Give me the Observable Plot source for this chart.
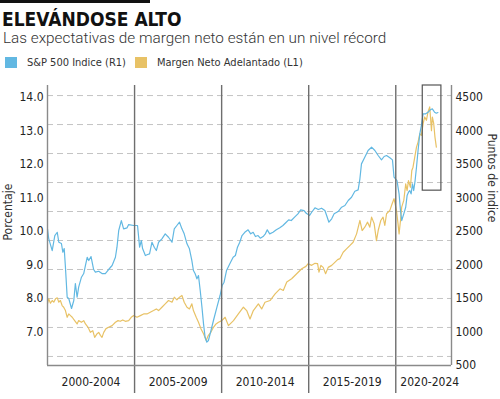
<!DOCTYPE html>
<html>
<head>
<meta charset="utf-8">
<script src="https://cdn.jsdelivr.net/npm/d3@7"></script>
<script src="https://cdn.jsdelivr.net/npm/@observablehq/plot@0.6"></script>
<style>
  html, body { margin: 0; padding: 0; background: #fff; }
  body { width: 500px; height: 399px; overflow: hidden; position: relative;
         font-family: "DejaVu Sans Condensed", "Liberation Sans Narrow", sans-serif; color: #222; }
  #bar { position: absolute; left: 0; top: 0; width: 150px; height: 3px; background: #111; }
  #title { position: absolute; left: 2px; top: 8px; font-weight: bold; font-size: 19px; line-height: 22px; color: #111; white-space: nowrap; }
  #subtitle { position: absolute; left: 3px; top: 29px; font-family: Roboto, "Open Sans", sans-serif; font-weight: 300; font-size: 15.3px; line-height: 18px; color: #333; white-space: nowrap; }
  #legend { position: absolute; left: 5px; top: 55px; font-size: 11px; line-height: 15px; color: #333; white-space: nowrap; display: flex; align-items: center; }
  #legend .sw { display: inline-block; width: 12px; height: 11px; margin-right: 10px; }
  #legend .item { display: flex; align-items: center; margin-right: 9px; }
  #chart { position: absolute; left: 0; top: 75px; }
</style>
</head>
<body>
<div id="bar"></div>
<div id="title"></div>
<div id="subtitle"></div>
<div id="legend"></div>
<div id="chart"></div>
<script>
// ---- Data ----
const titleText = "ELEVÁNDOSE ALTO";
const subtitleText = "Las expectativas de margen neto están en un nivel récord";
const seriesNames = ["S&P 500 Indice (R1)", "Margen Neto Adelantado (L1)"];
const seriesColors = ["#62b8e2", "#e8c266"];

// S&P 500 index (right axis, index points): [decimal year, value]
const sp500 = [
  [2000.00,2540],[2000.07,2395],[2000.27,2216],[2000.42,2440],[2000.56,2489],[2000.65,2340],[2000.80,2321],[2000.88,2191],
  [2000.96,2246],[2001.03,1967],[2001.13,1519],[2001.22,1500],[2001.38,1351],[2001.51,1470],[2001.60,1724],[2001.70,1519],
  [2001.79,1669],[2001.95,1818],[2002.08,1873],[2002.18,1993],[2002.28,2116],[2002.37,2067],[2002.50,2127],[2002.65,1933],
  [2002.75,1893],[2002.94,1907],[2003.13,1873],[2003.32,1873],[2003.51,1933],[2003.71,1993],[2003.90,2116],[2003.99,2266],
  [2004.09,2515],[2004.24,2664],[2004.37,2540],[2004.57,2555],[2004.66,2604],[2004.95,2590],[2005.17,2590],[2005.29,2266],
  [2005.39,2366],[2005.46,2246],[2005.62,2142],[2005.75,2157],[2005.86,2167],[2006.00,2340],[2006.13,2266],[2006.25,2216],
  [2006.38,2340],[2006.57,2391],[2006.76,2466],[2006.95,2415],[2007.15,2340],[2007.28,2540],[2007.43,2590],[2007.58,2639],
  [2007.72,2540],[2007.85,2466],[2008.01,2316],[2008.15,2242],[2008.29,2067],[2008.38,1918],[2008.48,1869],[2008.58,1794],
  [2008.67,1843],[2008.77,1619],[2008.87,1370],[2008.96,1122],[2009.05,922],[2009.15,848],[2009.24,873],[2009.34,973],
  [2009.53,1172],[2009.73,1370],[2009.91,1545],[2010.03,1694],[2010.14,1743],[2010.28,1918],[2010.47,2018],[2010.66,2116],
  [2010.79,2142],[2010.91,2266],[2011.04,2340],[2011.17,2440],[2011.33,2489],[2011.52,2525],[2011.67,2465],[2011.81,2489],
  [2011.94,2425],[2012.09,2440],[2012.22,2400],[2012.38,2425],[2012.51,2465],[2012.62,2525],[2012.76,2465],[2012.95,2489],
  [2013.14,2525],[2013.34,2555],[2013.52,2590],[2013.71,2639],[2013.85,2674],[2014.00,2664],[2014.19,2714],[2014.38,2764],
  [2014.54,2824],[2014.73,2813],[2014.86,2773],[2015.05,2739],[2015.17,2788],[2015.36,2854],[2015.55,2828],[2015.74,2848],
  [2015.93,2813],[2016.03,2739],[2016.16,2639],[2016.32,2690],[2016.46,2764],[2016.69,2798],[2016.89,2863],[2017.08,2888],
  [2017.27,2963],[2017.46,3012],[2017.65,3101],[2017.84,3122],[2017.94,3287],[2018.03,3510],[2018.22,3610],[2018.41,3710],
  [2018.61,3759],[2018.80,3710],[2018.99,3635],[2019.18,3570],[2019.33,3620],[2019.47,3635],[2019.66,3600],[2019.81,3570],
  [2019.90,3311],[2020.07,3261],[2020.19,3062],[2020.27,2813],[2020.34,2664],[2020.46,2764],[2020.57,2863],[2020.65,3037],
  [2020.73,3087],[2020.80,3112],[2020.88,3062],[2020.96,3211],[2021.03,3112],[2021.11,3261],[2021.19,3460],[2021.28,3710],
  [2021.38,3959],[2021.47,4082],[2021.57,4257],[2021.72,4257],[2021.85,4281],[2021.99,4317],[2022.10,4332],[2022.23,4281],
  [2022.33,4266],[2022.42,4276]
];

// Forward net margin (left axis, %): [decimal year, value]
const netMargin = [
  [2000.00,7.85],[2000.07,7.99],[2000.17,7.86],[2000.27,7.94],[2000.36,7.89],[2000.46,7.99],[2000.56,8.02],[2000.65,7.89],
  [2000.74,7.94],[2000.84,7.79],[2000.93,7.74],[2001.03,7.64],[2001.13,7.44],[2001.22,7.54],[2001.32,7.49],[2001.42,7.44],
  [2001.56,7.34],[2001.70,7.24],[2001.79,7.34],[2001.95,7.29],[2002.08,7.34],[2002.18,7.24],[2002.33,7.14],[2002.46,6.99],
  [2002.60,7.04],[2002.71,6.84],[2002.85,6.95],[2002.94,6.99],[2003.04,6.90],[2003.13,6.84],[2003.23,6.99],[2003.36,7.10],
  [2003.51,7.14],[2003.71,7.19],[2003.90,7.29],[2004.05,7.34],[2004.18,7.32],[2004.32,7.36],[2004.47,7.32],[2004.66,7.34],
  [2004.81,7.44],[2004.95,7.49],[2005.14,7.44],[2005.33,7.49],[2005.52,7.54],[2005.71,7.54],[2005.90,7.59],[2006.09,7.64],
  [2006.25,7.69],[2006.38,7.64],[2006.57,7.74],[2006.76,7.84],[2006.95,7.94],[2007.15,7.89],[2007.28,8.04],[2007.43,7.96],
  [2007.58,8.04],[2007.72,8.09],[2007.85,7.89],[2008.01,7.74],[2008.15,7.69],[2008.29,7.84],[2008.38,7.64],[2008.54,7.44],
  [2008.67,7.29],[2008.81,7.10],[2008.96,6.95],[2009.11,6.75],[2009.24,6.90],[2009.38,6.99],[2009.53,7.14],[2009.68,7.24],
  [2009.82,7.29],[2010.01,7.34],[2010.20,7.44],[2010.39,7.19],[2010.68,7.34],[2010.96,7.54],[2011.25,7.74],[2011.44,7.64],
  [2011.63,7.39],[2011.82,7.64],[2012.11,7.84],[2012.30,7.69],[2012.49,7.89],[2012.78,7.94],[2013.07,8.14],[2013.35,8.29],
  [2013.54,8.24],[2013.74,8.49],[2014.02,8.59],[2014.31,8.74],[2014.60,8.89],[2014.84,8.96],[2014.97,9.04],[2015.17,8.99],
  [2015.36,9.05],[2015.51,9.04],[2015.59,8.79],[2015.70,8.99],[2015.83,8.93],[2015.97,8.74],[2016.12,8.93],[2016.32,8.99],
  [2016.50,9.08],[2016.66,9.16],[2016.79,9.19],[2016.98,9.38],[2017.17,9.48],[2017.36,9.58],[2017.55,9.68],[2017.75,9.93],
  [2017.94,10.33],[2018.07,10.03],[2018.22,10.13],[2018.38,10.28],[2018.51,10.13],[2018.61,10.43],[2018.76,10.23],[2018.89,9.73],
  [2018.99,10.03],[2019.14,10.33],[2019.27,10.43],[2019.37,10.18],[2019.47,10.53],[2019.66,10.63],[2019.79,10.83],[2019.90,10.98],
  [2020.04,10.63],[2020.13,10.23],[2020.19,9.93],[2020.27,10.33],[2020.34,10.73],[2020.46,10.93],[2020.57,11.42],[2020.65,11.22],
  [2020.73,11.52],[2020.84,11.32],[2020.92,11.82],[2020.99,11.92],[2021.09,12.22],[2021.19,12.52],[2021.28,12.67],[2021.38,12.92],
  [2021.47,12.87],[2021.57,13.22],[2021.66,13.42],[2021.76,13.32],[2021.85,13.57],[2021.95,13.72],[2022.05,13.01],[2022.10,13.42],
  [2022.18,13.22],[2022.25,12.82],[2022.33,12.52]
];

const leftTicks = [7, 8, 9, 10, 11, 12, 13, 14];
const rightTicks = [500, 1000, 1500, 2000, 2500, 3000, 3500, 4000, 4500];
const periodStarts = [2000, 2005, 2010, 2015, 2020];
const periodLabels = ["2000-2004", "2005-2009", "2010-2014", "2015-2019", "2020-2024"];
const highlightYears = [2021.55, 2022.62];
const highlightPct = [11.22, 14.36];
const axisTitles = ["Porcentaje", "Puntos de indice"];

// ---- Build ----
const xDomain = [2000, 2023.2];
const yDomain = [6, 14.36];
const toPct = r => r / 500 + 5;          // index points -> left-axis scale
const toIdx = p => String(Math.round((p - 5) * 500));

const spData = sp500.map(([x, v]) => ({x, y: toPct(v)}));
const nmData = netMargin.map(([x, v]) => ({x, y: v}));
const gridLines = d3.range(10).map(i => 6.27 + i * (14.06 - 6.27) / 9);
const mids = periodStarts.map((s, i) => (s + Math.min(s + 5, xDomain[1])) / 2 + (i === 4 ? 0.35 : 0));

document.getElementById("title").textContent = titleText;
document.getElementById("subtitle").textContent = subtitleText;
const legend = document.getElementById("legend");
seriesNames.forEach((n, i) => {
  const it = document.createElement("span"); it.className = "item";
  const sw = document.createElement("span"); sw.className = "sw"; sw.style.background = seriesColors[i];
  const tx = document.createElement("span"); tx.textContent = n;
  it.append(sw, tx); legend.append(it);
});

const chart = Plot.plot({
  width: 500, height: 324,
  marginTop: 10, marginBottom: 34, marginLeft: 47, marginRight: 49,
  style: {fontFamily: '"DejaVu Sans Condensed", "Liberation Sans Narrow", sans-serif', color: "#222", background: "transparent"},
  x: {domain: xDomain, axis: null},
  y: {domain: yDomain},
  marks: [
    Plot.ruleY(gridLines, {stroke: "#c4c4c4", strokeWidth: 1, strokeDasharray: "6,4"}),
    Plot.line(nmData, {x: "x", y: "y", stroke: seriesColors[1], strokeWidth: 1.2}),
    Plot.line(spData, {x: "x", y: "y", stroke: seriesColors[0], strokeWidth: 1.2}),
    Plot.ruleX(periodStarts.slice(1), {stroke: "#6e6e6e", strokeWidth: 1.4, insetBottom: -28}),
    Plot.ruleX([xDomain[0], xDomain[1]], {stroke: "#8a8a8a", strokeWidth: 1.4}),
    Plot.ruleY([yDomain[0]], {stroke: "#8a8a8a", strokeWidth: 1.4}),
    Plot.rect([0], {x1: () => highlightYears[0], x2: () => highlightYears[1], y1: () => highlightPct[0], y2: () => highlightPct[1],
      fill: "none", stroke: "#555", strokeWidth: 1.2}),
    Plot.axisY(leftTicks, {anchor: "left", tickSize: 0, tickPadding: 4, fontSize: 12, tickFormat: d => d.toFixed(1), label: null}),
    Plot.axisY(rightTicks.map(toPct), {anchor: "right", tickSize: 0, tickPadding: 4, fontSize: 12, tickFormat: toIdx, label: null}),
    Plot.text(periodLabels, {x: (d, i) => mids[i], frameAnchor: "bottom", dy: 20, fontSize: 12, fill: "#222"}),
    Plot.text([axisTitles[0]], {frameAnchor: "left", dx: -39, dy: 15, rotate: -90, fontSize: 12, fill: "#333"}),
    Plot.text([axisTitles[1]], {frameAnchor: "right", dx: 40, dy: -3, rotate: 90, fontSize: 12, fill: "#333"})
  ]
});
document.getElementById("chart").append(chart);
</script>
</body>
</html>
